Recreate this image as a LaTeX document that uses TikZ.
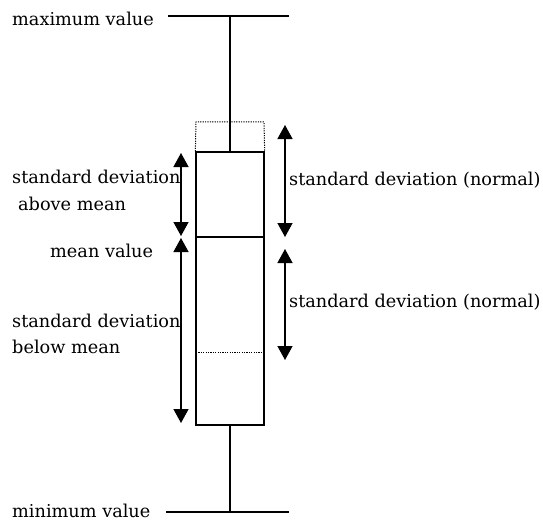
\documentclass[tikz,border=0pt]{standalone}
\usepackage{fontspec}
\setmainfont{DejaVu Serif}
\usetikzlibrary{arrows.meta, positioning}

\begin{document}
\begin{tikzpicture}[x=1pt, y=-1pt,
        txt/.style={inner sep=0pt, anchor=base west, font=\fontsize{17.7}{21}\selectfont},
        boxline/.style={line width=1.3pt},
        dotline/.style={line width=1pt, dash pattern=on 1.2pt off 1.2pt},
        sdarrow/.style={
            line width=1.4pt,
            {Triangle[width=15pt,length=14pt]}-{Triangle[width=15pt,length=14pt]}
        }
    ]
        \useasboundingbox (0,0) rectangle (543,524);

        % box and whiskers
        \node[draw, boxline, minimum width=68pt, minimum height=273pt, inner sep=0pt] (box) at (230,288.5) {};

        \coordinate (maxL) at (168,16);
        \coordinate (maxR) at (289,16);
        \coordinate (maxM) at (230,16);
        \coordinate (minL) at (166,512);
        \coordinate (minR) at (289,512);
        \coordinate (minM) at (230,512);

        \draw[boxline] (maxL) -- (maxR);
        \draw[boxline] (maxM) -- (box.north);
        \draw[boxline] (minL) -- (minR);
        \draw[boxline] (box.south) -- (minM);

        \coordinate (dotNW) at (196,122);
        \coordinate (dotNE) at (264,122);
        \draw[dotline] (box.north west) -- (dotNW) -- (dotNE) -- (box.north east);

        \coordinate (meanL) at (196,237);
        \coordinate (meanR) at (264,237);
        \draw[boxline] (meanL) -- (meanR);

        \coordinate (lowL) at (196,352);
        \coordinate (lowR) at (264,352);
        \draw[dotline] (lowL) -- (lowR);

        % deviation arrows
        \coordinate (lu1) at (181,153);
        \coordinate (lu2) at (181,236);
        \coordinate (ll1) at (181,238);
        \coordinate (ll2) at (181,423);
        \coordinate (ru1) at (285,125);
        \coordinate (ru2) at (285,237);
        \coordinate (rl1) at (285,249);
        \coordinate (rl2) at (285,360);

        \draw[sdarrow] (lu1) -- (lu2);
        \draw[sdarrow] (ll1) -- (ll2);
        \draw[sdarrow] (ru1) -- (ru2);
        \draw[sdarrow] (rl1) -- (rl2);

        % labels
        \node[txt] (maxtext) at (12,26) {maximum value};
        \node[txt] (sdabove) at (12,183) {standard deviation};
        \node[txt] (above) at (18,210) {above mean};
        \node[txt] (meantext) at (50,257) {mean value};
        \node[txt] (sdbelow) at (12,327) {standard deviation};
        \node[txt] (below) at (12,353) {below mean};
        \node[txt] (sdnorm1) at (289,185) {standard deviation (normal)};
        \node[txt] (sdnorm2) at (289,307) {standard deviation (normal)};
        \node[txt] (mintext) at (12,517) {minimum value};
    \end{tikzpicture}
\end{document}
